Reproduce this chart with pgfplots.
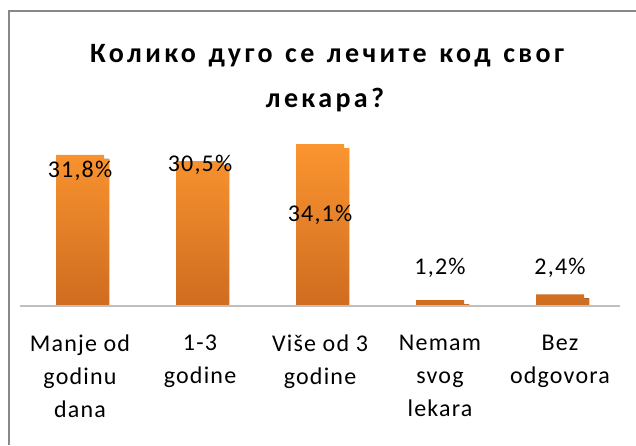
\documentclass[border=0pt]{standalone}
\usepackage{fontspec}
\setmainfont{Carlito}
\newfontfamily\titlefont[LetterSpace=12,WordSpace=1.3]{Carlito}
\newfontfamily\bodyfont[LetterSpace=5]{Carlito}
\usepackage{pgfplots}
\usepackage{pgfplotstable}
\pgfplotsset{compat=1.18}
\usetikzlibrary{shadows}
\definecolor{framegray}{RGB}{136,136,136}
\definecolor{axisgray}{RGB}{191,191,191}
\definecolor{bartop}{RGB}{251,149,48}
\definecolor{barbot}{RGB}{206,108,32}

% dy = offset of the data label from the bar top (pt)
\pgfplotstableread{
x y dy lbl
0 31.8 -16 31,8
1 30.5 -4 30,5
2 34.1 -71 34,1
3 1.2 32 1,2
4 2.4 26 2,4
}\lekar

\begin{document}
\begin{tikzpicture}[x=1pt,y=1pt]
\path[use as bounding box] (0,0) rectangle (636,445);
\draw[framegray, line width=1.5pt] (636,434) -- (9,434) -- (9,0);
\node[anchor=base, inner sep=0pt, font=\titlefont\fontsize{28}{32}\selectfont\bfseries] at (327,382) {Колико дуго се лечите код свог};
\node[anchor=base, inner sep=0pt, font=\titlefont\fontsize{28}{32}\selectfont\bfseries] at (325,337) {лекара?};
\begin{axis}[
	at={(20pt,139.3pt)}, anchor=south west,
	scale only axis,
	width=600pt, height=189.6pt,
	xmin=-0.5, xmax=4.5,
	ymin=0, ymax=40,
	axis x line*=bottom,
	axis y line=none,
	axis line style={draw=axisgray, line width=2pt},
	axis on top,
	xtick={0,1,2,3,4},
	xticklabels={{Manje od\\godinu\\dana},{1-3\\godine},{Više od 3\\godine},{Nemam\\svog\\lekara},{Bez\\odgovora}},
	major tick length=0pt,
	xticklabel style={anchor=north, inner sep=0pt, yshift=-29pt, align=center, font=\bodyfont\fontsize{24}{33}\selectfont},
	ytick=\empty,
	]
	\addplot[ybar, bar shift=0pt, bar width=48pt, draw=none,
		top color=bartop, bottom color=barbot,
		drop shadow={shadow xshift=5pt, shadow yshift=-4pt, fill=black, opacity=1}]
		table[x=x, y=y] {\lekar};
	\addplot[only marks, mark=none, point meta=explicit symbolic,
		visualization depends on={\thisrow{dy} \as \dy},
		nodes near coords={\pgfplotspointmeta\%},
		every node near coord/.append style={anchor=center, yshift=\dy pt, font=\bodyfont\fontsize{24}{28}\selectfont, text=black}]
		table[x=x, y=y, meta=lbl] {\lekar};
\end{axis}
\end{tikzpicture}
\end{document}
